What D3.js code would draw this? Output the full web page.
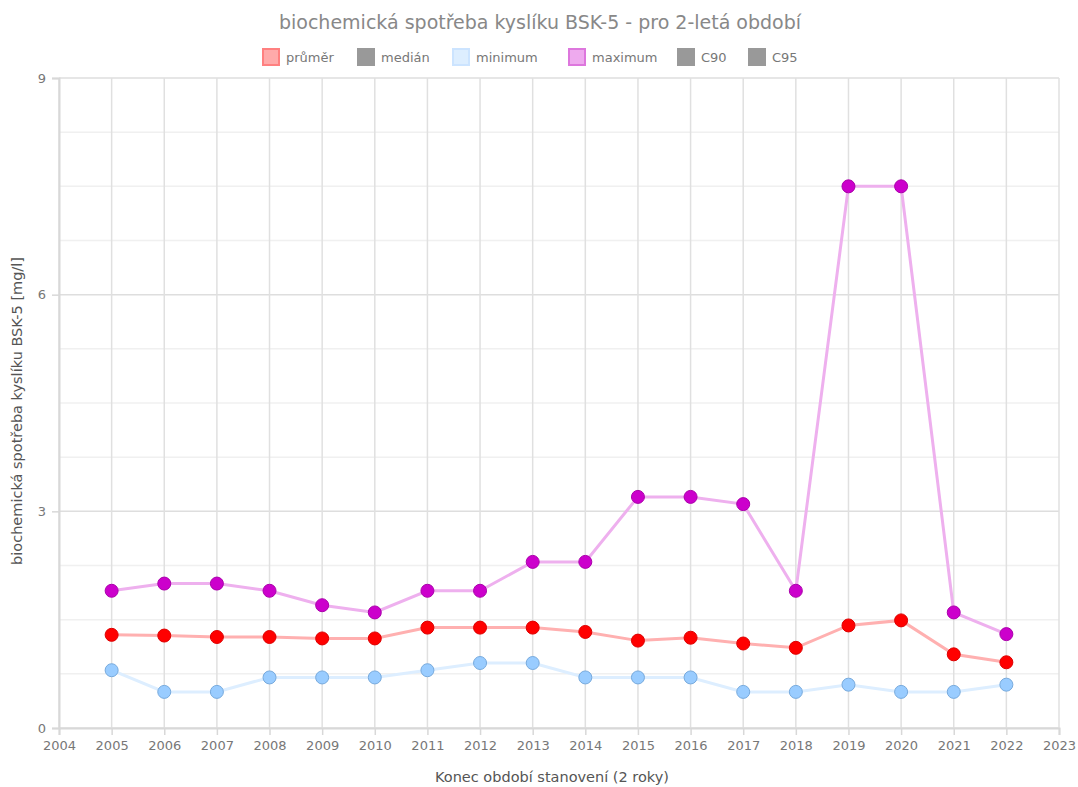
<!DOCTYPE html>
<html lang="cs">
<head>
<meta charset="UTF-8">
<title>BSK-5</title>
<script src="https://d3js.org/d3.v7.min.js"></script>
<style>
  body { margin: 0; background: #fff; }
  svg { font-family: "DejaVu Sans", Verdana, sans-serif; }
</style>
</head>
<body>
<svg width="1078" height="787"></svg>
<script>
// data
const years = [2005, 2006, 2007, 2008, 2009, 2010, 2011, 2012, 2013, 2014, 2015, 2016, 2017, 2018, 2019, 2020, 2021, 2022];
const prumer = [1.29, 1.28, 1.26, 1.26, 1.24, 1.24, 1.39, 1.39, 1.39, 1.33, 1.21, 1.25, 1.17, 1.11, 1.42, 1.49, 1.02, 0.91];
const minimum = [0.8, 0.5, 0.5, 0.7, 0.7, 0.7, 0.8, 0.9, 0.9, 0.7, 0.7, 0.7, 0.5, 0.5, 0.6, 0.5, 0.5, 0.6];
const maximum = [1.9, 2.0, 2.0, 1.9, 1.7, 1.6, 1.9, 1.9, 2.3, 2.3, 3.2, 3.2, 3.1, 1.9, 7.5, 7.5, 1.6, 1.3];
const yTicks = [0, 3, 6, 9];
const legendItems = ["průměr", "medián", "minimum", "maximum", "C90", "C95"];

const svg = d3.select("svg");
const plotLeft = 59, plotRight = 1059, plotTop = 78, plotBottom = 728;

const x = d3.scaleLinear().domain([2004, 2023]).range([plotLeft, plotRight]);
const y = d3.scaleLinear().domain([0, 9]).range([plotBottom, plotTop]);

// minor grid every 0.75
const minor = d3.range(0, 9.01, 0.75).filter(v => yTicks.indexOf(v) < 0);
svg.append("g").selectAll("line").data(minor).enter().append("line")
  .attr("x1", plotLeft).attr("x2", plotRight)
  .attr("y1", d => y(d)).attr("y2", d => y(d))
  .attr("stroke", "#f0f0f0").attr("stroke-width", 1.5);

svg.append("g").selectAll("line").data(yTicks).enter().append("line")
  .attr("x1", plotLeft).attr("x2", plotRight)
  .attr("y1", d => y(d)).attr("y2", d => y(d))
  .attr("stroke", "#dedede").attr("stroke-width", 1.5);

// vertical grid
svg.append("g").selectAll("line").data(d3.range(2004, 2024)).enter().append("line")
  .attr("x1", d => x(d)).attr("x2", d => x(d))
  .attr("y1", plotTop).attr("y2", plotBottom)
  .attr("stroke", "#e0e0e0").attr("stroke-width", 1.5);

// x axis
const xAxis = svg.append("g")
  .attr("transform", `translate(0,${plotBottom})`)
  .call(d3.axisBottom(x).tickValues(d3.range(2004, 2024)).tickFormat(d3.format("d")).tickSize(7).tickPadding(6));
xAxis.select(".domain").attr("stroke", "#d8d8d8").attr("stroke-width", 2);
xAxis.selectAll(".tick line").attr("stroke", "#d8d8d8").attr("stroke-width", 1.5);
xAxis.selectAll("text").attr("fill", "#777").attr("font-size", 13).attr("font-family", "DejaVu Sans, Verdana, sans-serif");

// y axis
const yAxis = svg.append("g")
  .attr("transform", `translate(${plotLeft},0)`)
  .call(d3.axisLeft(y).tickValues(yTicks).tickSize(7).tickPadding(6));
yAxis.select(".domain").attr("stroke", "#d8d8d8").attr("stroke-width", 2);
yAxis.selectAll(".tick line").attr("stroke", "#d8d8d8").attr("stroke-width", 1.5);
yAxis.selectAll("text").attr("fill", "#777").attr("font-size", 13).attr("font-family", "DejaVu Sans, Verdana, sans-serif");

// series
const series = [
  { name: "minimum", values: minimum, line: "#ddeeff", fill: "#99ccff", stroke: "#77aadd" },
  { name: "průměr", values: prumer, line: "#ffb0b0", fill: "#ff0000", stroke: "#dd0000" },
  { name: "maximum", values: maximum, line: "#eeb0ee", fill: "#cc00cc", stroke: "#aa00aa" }
];

const line = d3.line().x((d, i) => x(years[i])).y(d => y(d));

series.forEach(s => {
  svg.append("path")
    .datum(s.values)
    .attr("d", line)
    .attr("fill", "none")
    .attr("stroke", s.line)
    .attr("stroke-width", 3);
});
series.forEach(s => {
  svg.append("g").selectAll("circle").data(s.values).enter().append("circle")
    .attr("cx", (d, i) => x(years[i]))
    .attr("cy", d => y(d))
    .attr("r", 6.5)
    .attr("fill", s.fill)
    .attr("stroke", s.stroke)
    .attr("stroke-width", 1);
});

// title
svg.append("text")
  .attr("x", 540).attr("y", 29)
  .attr("text-anchor", "middle")
  .attr("fill", "#888")
  .attr("font-size", 19)
  .text("biochemická spotřeba kyslíku BSK-5 - pro 2-letá období");

// legend
const legendColors = {
  "průměr": ["#ffaaaa", "#ff8080"],
  "medián": ["#999999", "#999999"],
  "minimum": ["#ddeeff", "#cce4ff"],
  "maximum": ["#eeaaee", "#dd77dd"],
  "C90": ["#999999", "#999999"],
  "C95": ["#999999", "#999999"]
};
const legendX = [262, 357, 452, 568, 677, 748];
const lg = svg.append("g");
legendItems.forEach((name, i) => {
  lg.append("rect")
    .attr("x", legendX[i] + 1).attr("y", 49)
    .attr("width", 16).attr("height", 16)
    .attr("fill", legendColors[name][0])
    .attr("stroke", legendColors[name][1])
    .attr("stroke-width", 2);
  lg.append("text")
    .attr("x", legendX[i] + 24).attr("y", 62)
    .attr("fill", "#777")
    .attr("font-size", 13)
    .text(name);
});

// axis titles
svg.append("text")
  .attr("transform", `translate(22,${(plotTop + plotBottom) / 2 + 8}) rotate(-90)`)
  .attr("text-anchor", "middle")
  .attr("fill", "#555")
  .attr("font-size", 14.5)
  .text("biochemická spotřeba kyslíku BSK-5 [mg/l]");

svg.append("text")
  .attr("x", 552).attr("y", 782)
  .attr("text-anchor", "middle")
  .attr("fill", "#555")
  .attr("font-size", 14.5)
  .text("Konec období stanovení (2 roky)");
</script>
</body>
</html>
